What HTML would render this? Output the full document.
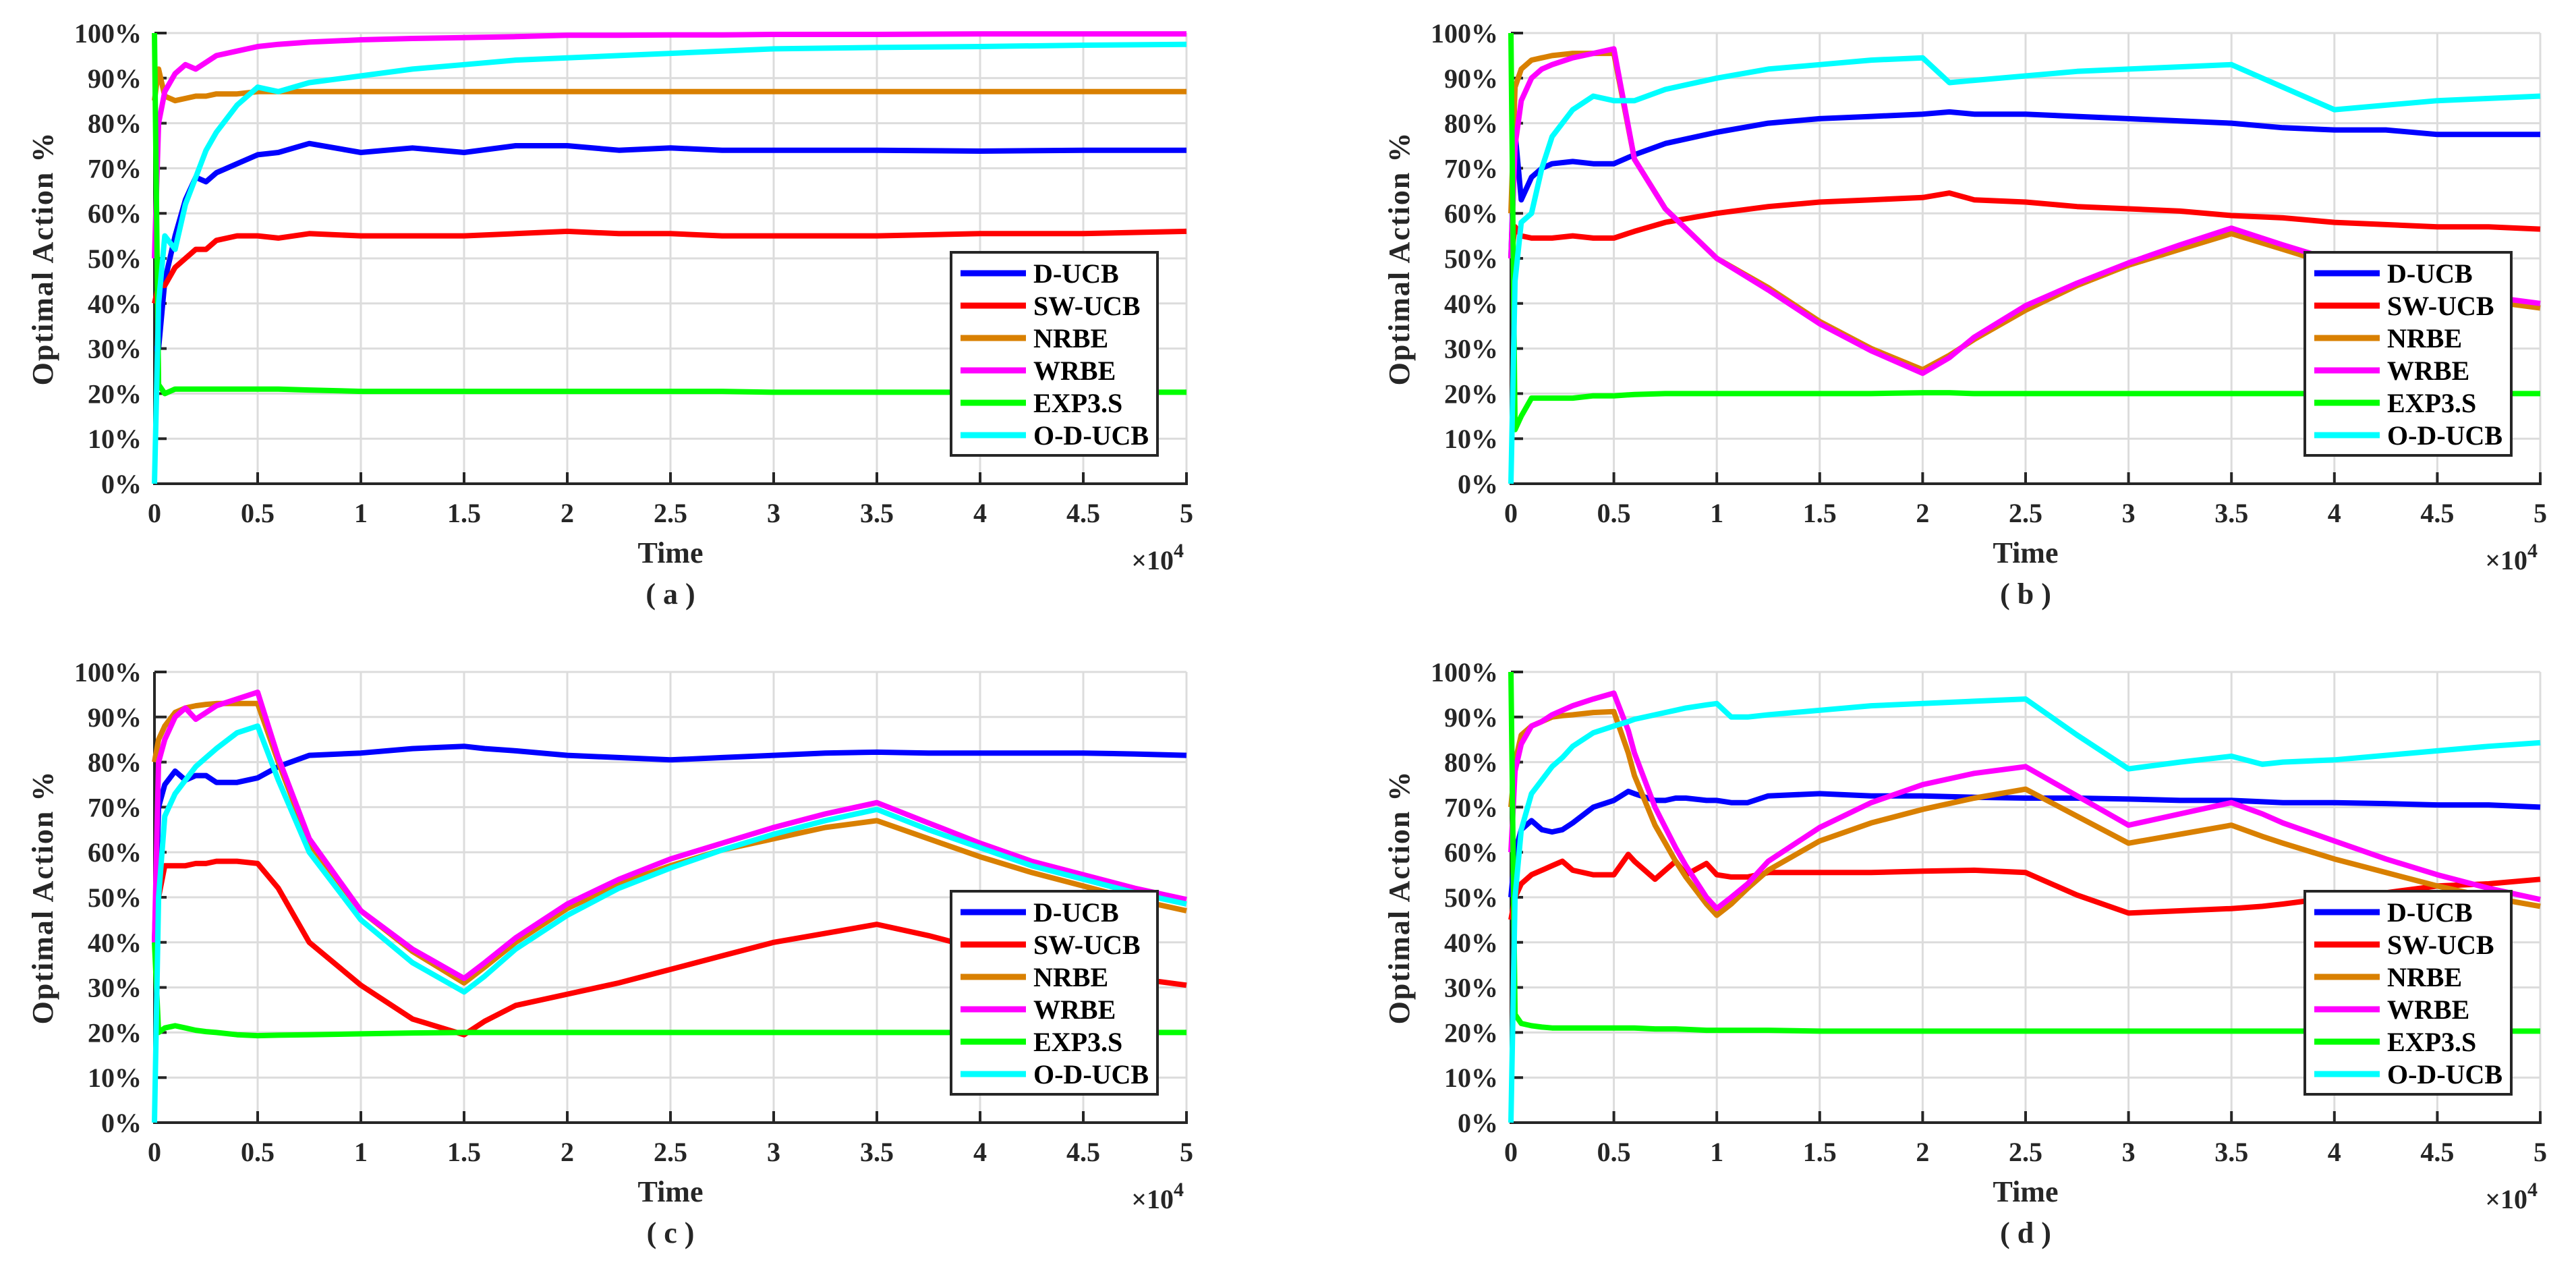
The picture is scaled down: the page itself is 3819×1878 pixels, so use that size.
<!DOCTYPE html>
<html><head><meta charset="utf-8"><style>
html,body{margin:0;padding:0;background:#fff;}
svg{display:block;font-family:"Liberation Serif",serif;font-weight:bold;}
</style></head><body>
<svg id="chart" width="3819" height="1878" viewBox="0 0 3819 1878" xmlns="http://www.w3.org/2000/svg"></svg>
<script>
// ---------- data (time in units of 1e4, values in %) ----------
const seriesNames = ["D-UCB","SW-UCB","NRBE","WRBE","EXP3.S","O-D-UCB"];
const xTicks = [0,0.5,1,1.5,2,2.5,3,3.5,4,4.5,5];
const xTickLabels = ["0","0.5","1","1.5","2","2.5","3","3.5","4","4.5","5"];
const yTicks = [0,10,20,30,40,50,60,70,80,90,100];
const yTickLabels = ["0%","10%","20%","30%","40%","50%","60%","70%","80%","90%","100%"];

const aT    = [0,0.02,0.05,0.1,0.15,0.2,0.25,0.3,0.4,0.5,0.6,0.75,1,1.25,1.5,1.75,2,2.25,2.5,2.75,3,3.5,4,4.5,5];
const aDUCB = [30,30,45,55,63,68,67,69,71,73,73.5,75.5,73.5,74.5,73.5,75,75,74,74.5,74,74,74,73.8,74,74];
const aSW   = [40,44,44,48,50,52,52,54,55,55,54.5,55.5,55,55,55,55.5,56,55.5,55.5,55,55,55,55.5,55.5,56];
const aNRBE = [85,92,86,85,85.5,86,86,86.5,86.5,87,87,87,87,87,87,87,87,87,87,87,87,87,87,87,87];
const aWRBE = [50,80,87,91,93,92,93.5,95,96,97,97.5,98,98.5,98.8,99,99.2,99.5,99.5,99.6,99.6,99.7,99.7,99.8,99.8,99.8];
const aEXP  = [100,22,20,21,21,21,21,21,21,21,21,20.8,20.5,20.5,20.5,20.5,20.5,20.5,20.5,20.5,20.3,20.3,20.3,20.3,20.3];
const aOD   = [0,40,55,52,62,68,74,78,84,88,87,89,90.5,92,93,94,94.5,95,95.5,96,96.5,96.8,97,97.3,97.5];

const bT    = [0,0.02,0.05,0.1,0.15,0.2,0.3,0.4,0.5,0.6,0.75,1,1.25,1.5,1.75,2,2.13,2.25,2.5,2.75,3,3.25,3.5,3.75,4,4.25,4.5,4.75,5];
const bDUCB = [50,78,63,68,70,71,71.5,71,71,73,75.5,78,80,81,81.5,82,82.5,82,82,81.5,81,80.5,80,79,78.5,78.5,77.5,77.5,77.5];
const bSW   = [50,57,55,54.5,54.5,54.5,55,54.5,54.5,56,58,60,61.5,62.5,63,63.5,64.5,63,62.5,61.5,61,60.5,59.5,59,58,57.5,57,57,56.5];
const bNRBE = [60,88,92,94,94.5,95,95.5,95.5,95.5,72,61,50,43.5,36,30,25.3,28.5,32,38.5,44,48.5,52,55.5,52,48.5,45,42.5,40.5,39];
const bWRBE = [50,75,85,90,92,93,94.5,95.5,96.5,72,61,50,43,35.5,29.5,24.5,28,32.5,39.5,44.5,49,53,56.7,53,49.5,46,43.5,41.5,40];
const bEXP  = [100,12,15,19,19,19,19,19.5,19.5,19.8,20,20,20,20,20,20.2,20.2,20,20,20,20,20,20,20,20,20,20,20,20];
const bOD   = [0,45,58,60,70,77,83,86,85,85,87.5,90,92,93,94,94.5,89,89.5,90.5,91.5,92,92.5,93,88,83,84,85,85.5,86];

const cT    = [0,0.02,0.05,0.1,0.15,0.2,0.25,0.3,0.4,0.5,0.6,0.75,1,1.25,1.5,1.6,1.75,2,2.25,2.5,2.75,3,3.25,3.5,3.75,4,4.25,4.5,4.75,5];
const cDUCB = [40,70,75,78,76,77,77,75.5,75.5,76.5,79,81.5,82,83,83.5,83,82.5,81.5,81,80.5,81,81.5,82,82.2,82,82,82,82,81.8,81.5];
const cSW   = [40,50,57,57,57,57.5,57.5,58,58,57.5,52,40,30.5,23,19.5,22.5,26,28.5,31,34,37,40,42,44,41.5,38.5,36,34,32,30.5];
const cNRBE = [80,85,88,91,92,92.5,92.8,93,93,93,80,62,47,38,31,34.5,40,47.5,53,57,60.5,63,65.5,67,63,59,55.5,52.5,49.5,47];
const cWRBE = [40,80,85,90,92,89.5,91,92.5,94,95.5,81,63,47,38.5,32,35.5,41,48.5,54,58.5,62,65.5,68.5,71,66.5,62,58,55,52,49.5];
const cEXP  = [40,20,21,21.5,21,20.5,20.2,20,19.5,19.3,19.4,19.5,19.7,19.9,20,20,20,20,20,20,20,20,20,20,20,20,20,20,20,20];
const cOD   = [0,50,68,73,76,79,81,83,86.5,88,76,60,45,35.5,29,32.5,38.5,46,52,56.5,60.5,64,67,69.5,65,61,57,54,51,48.5];

const dT    = [0,0.02,0.05,0.1,0.15,0.2,0.25,0.3,0.4,0.5,0.57,0.6,0.7,0.75,0.8,0.85,0.95,1,1.07,1.15,1.25,1.5,1.75,2,2.25,2.5,2.75,3,3.25,3.5,3.65,3.75,4,4.25,4.5,4.75,5];
const dDUCB = [50,60,65,67,65,64.5,65,66.5,70,71.5,73.5,73,71.5,71.5,72,72,71.5,71.5,71,71,72.5,73,72.5,72.5,72.2,72,72,71.8,71.5,71.5,71.2,71,71,70.8,70.5,70.5,70];
const dSW   = [45,50,53,55,56,57,58,56,55,55,59.5,58,54,56,58,55,57.5,55,54.5,54.5,55.5,55.5,55.5,55.8,56,55.5,50.5,46.5,47,47.5,48,48.5,50,51,52.5,53,54];
const dNRBE = [70,80,86,88,89,90,90.3,90.5,91,91.2,82,77,66,62,58,54.5,48.5,46,48.5,52,56,62.5,66.5,69.5,72,74,68,62,64,66,63.5,62,58.5,55.5,52.5,50,48];
const dWRBE = [60,78,84,88,89,90.5,91.5,92.5,94,95.3,87,82,70,65.5,61,57,50,47.5,50,53,58,65.5,71,75,77.5,79,72.5,66,68.5,71,68.5,66.5,62.5,58.5,55,52,49.5];
const dEXP  = [100,24,22,21.5,21.2,21,21,21,21,21,21,21,20.8,20.8,20.8,20.7,20.5,20.5,20.5,20.5,20.5,20.3,20.3,20.3,20.3,20.3,20.3,20.3,20.3,20.3,20.3,20.3,20.3,20.3,20.3,20.3,20.3];
const dOD   = [0,50,65,73,76,79,81,83.5,86.5,88,89,89.5,90.5,91,91.5,92,92.7,93,90,90,90.5,91.5,92.5,93,93.5,94,86,78.5,80,81.3,79.5,80,80.5,81.5,82.5,83.5,84.3];

// ---------- rendering ----------
const colors = ["#0000ff","#ff0000","#d98000","#ff00ff","#00ff00","#00ffff"];
const panels = [
  {id:"a", L:229, R:1759, T:49, B:717, t:aT, s:[aDUCB,aSW,aNRBE,aWRBE,aEXP,aOD]},
  {id:"b", L:2240, R:3766, T:49, B:717, t:bT, s:[bDUCB,bSW,bNRBE,bWRBE,bEXP,bOD]},
  {id:"c", L:229, R:1759, T:996, B:1664, t:cT, s:[cDUCB,cSW,cNRBE,cWRBE,cEXP,cOD]},
  {id:"d", L:2240, R:3766, T:996, B:1664, t:dT, s:[dDUCB,dSW,dNRBE,dWRBE,dEXP,dOD]}
];
const NS = "http://www.w3.org/2000/svg";
const svg = document.getElementById("chart");
function mk(tag, attrs, parent, text){
  const e = document.createElementNS(NS, tag);
  for (const k in attrs) e.setAttribute(k, attrs[k]);
  if (text !== undefined) e.textContent = text;
  parent.appendChild(e);
  return e;
}
panels.forEach(p => {
  const g = mk("g", {}, svg);
  
  
  const xs = v => p.L + (v / 5) * (p.R - p.L);
  const ys = v => p.B - (v / 100) * (p.B - p.T);
  // grid
  const grid = mk("g", {stroke:"#dcdcdc","stroke-width":3}, g);
  
  
  xTicks.forEach(v => { if (v > 0) mk("line", {x1:xs(v), x2:xs(v), y1:p.T, y2:p.B}, grid); });
  yTicks.forEach(v => { if (v > 0) mk("line", {x1:p.L, x2:p.R, y1:ys(v), y2:ys(v)}, grid); });
  // axes
  const ax = mk("g", {stroke:"#262626","stroke-width":4}, g);
  
  
  mk("line", {x1:p.L, x2:p.R+2, y1:p.B, y2:p.B}, ax);
  mk("line", {x1:p.L, x2:p.L, y1:p.T, y2:p.B+2}, ax);
  xTicks.forEach(v => mk("line", {x1:xs(v), x2:xs(v), y1:p.B, y2:p.B-17}, ax));
  yTicks.forEach(v => mk("line", {x1:p.L, x2:p.L+18, y1:ys(v), y2:ys(v)}, ax));
  // tick labels
  xTicks.forEach((v,i) => {
    const t = mk("text", {x:xs(v), y:p.B+57, "text-anchor":"middle", "font-size":40, fill:"#262626"}, g, xTickLabels[i]);
    
    
  });
  yTicks.forEach((v,i) => {
    const t = mk("text", {x:p.L-19, y:ys(v)+14, "text-anchor":"end", "font-size":40, fill:"#262626"}, g, yTickLabels[i]);
    
    
  });
  const cx = (p.L + p.R) / 2, cy = (p.T + p.B) / 2;
  const xt = mk("text", {x:cx, y:p.B+117, "text-anchor":"middle", "font-size":44, fill:"#262626"}, g, "Time");
  
  
  const yt = mk("text", {x:0, y:0, transform:"translate("+(p.L-151)+","+cy+") rotate(-90)", "text-anchor":"middle", "font-size":44, "letter-spacing":2, fill:"#262626"}, g, "Optimal Action %");
  
  
  const ex = mk("text", {x:p.R-4, y:p.B+127, "text-anchor":"end", "font-size":40, fill:"#262626"}, g);
  
  
  mk("tspan", {}, ex, "\u00d710");
  mk("tspan", {dy:-18, "font-size":30}, ex, "4");
  const cap = mk("text", {x:cx, y:p.B+178, "text-anchor":"middle", "font-size":44, fill:"#262626"}, g, "( " + p.id + " )");
  
  
  // series
  p.s.forEach((vals, k) => {
    const pts = vals.map((v,i) => xs(p.t[i]).toFixed(1) + "," + ys(v).toFixed(1)).join(" ");
    const pl = mk("polyline", {points:pts, fill:"none", stroke:colors[k], "stroke-width":8, "stroke-linejoin":"round", "stroke-linecap":"butt"}, g);
    
    
  });
  // legend
  const lx = p.R - 43 - 306, ly = p.B - 42 - 301;
  const lg = mk("g", {}, g);
  
  
  mk("rect", {x:lx, y:ly, width:306, height:301, fill:"#fff", stroke:"#262626", "stroke-width":4}, lg);
  seriesNames.forEach((n,k) => {
    const ey = ly + 31 + k*48;
    const en = mk("g", {}, lg);
    
    
    mk("line", {x1:lx+14, x2:lx+111, y1:ey, y2:ey, stroke:colors[k], "stroke-width":9}, en);
    mk("text", {x:lx+122, y:ey+14, "font-size":40, fill:"#000"}, en, n);
  });
});
</script>
</body></html>
